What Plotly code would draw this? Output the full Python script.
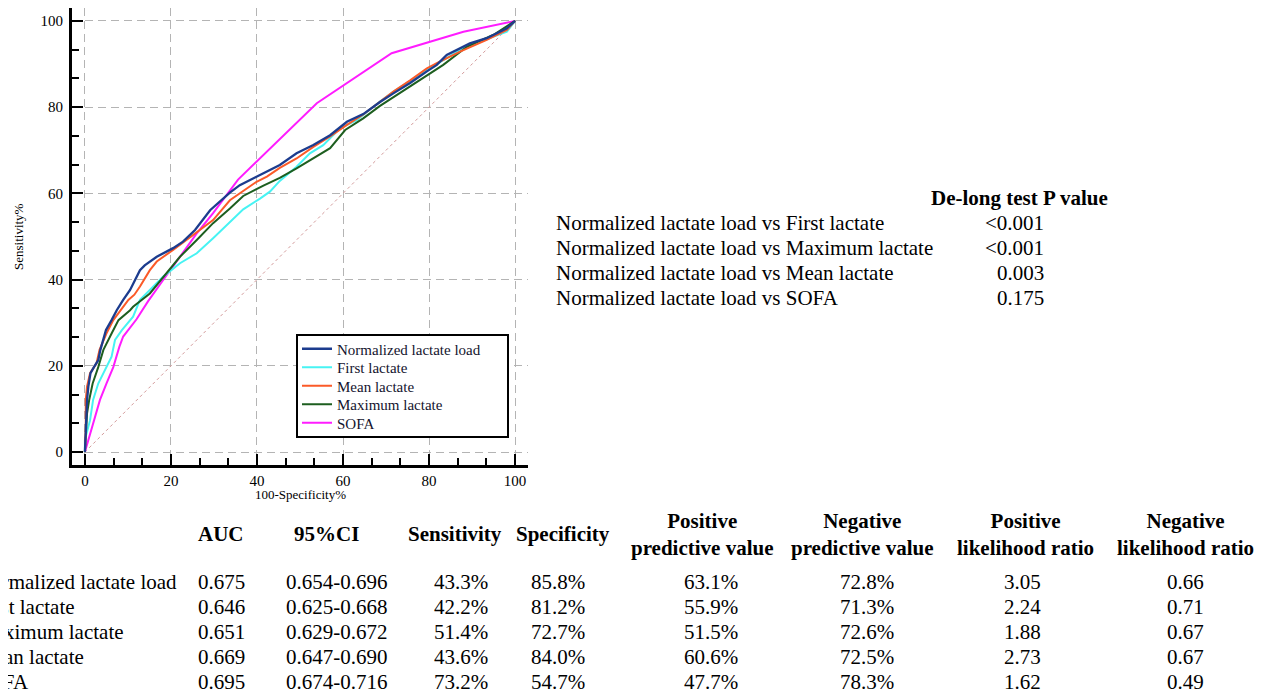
import plotly.graph_objects as go

# ---------------- data ----------------
nll_fpr = [0, 0.2, 0.5, 0.8, 1.3, 2.1, 3.1, 3.6, 4.3, 4.9, 6.2, 7.4, 8.9, 10.5, 12.8, 13.9, 16.7, 20.5, 22.8, 25.6, 29.1, 31.4, 33.7, 36.0, 39.1, 42.3, 45.3, 49.2, 53.1, 57.0, 60.9, 64.7, 68.6, 71.7, 75.6, 79.5, 81.8, 84.1, 87.2, 89.5, 93.4, 98.1, 100]
nll_tpr = [0, 6.0, 12.1, 15.2, 18.3, 19.7, 21.3, 23.7, 26.0, 28.3, 30.6, 32.9, 35.3, 37.6, 42.2, 43.3, 45.3, 47.3, 48.8, 51.5, 56.1, 58.1, 60.2, 61.9, 63.5, 65.0, 66.6, 69.3, 71.2, 73.5, 76.6, 78.4, 81.2, 83.2, 85.6, 88.3, 89.8, 92.1, 93.7, 94.8, 96.0, 98.3, 100]

first_fpr = [0, 0, 1.2, 1.9, 3.1, 5.0, 6.2, 7.0, 8.6, 11.2, 12.8, 15.1, 18.2, 22.1, 26.0, 29.8, 33.7, 36.8, 40.7, 43.0, 45.3, 49.2, 52.3, 55.4, 59.3, 63.2, 68.6, 72.0, 79.5, 87.2, 95.0, 98.1, 100]
first_tpr = [0, 2.8, 7.4, 12.1, 15.9, 19.7, 22.1, 26.0, 28.3, 31.4, 35.3, 37.6, 40.7, 43.8, 46.1, 49.6, 53.4, 56.3, 58.8, 60.4, 62.9, 66.2, 69.3, 71.2, 75.1, 77.0, 81.3, 83.8, 88.6, 93.3, 96.4, 97.5, 100]

mean_fpr = [0, 0.2, 0.2, 0.5, 1.2, 2.7, 3.4, 5.0, 6.6, 8.5, 10.1, 11.5, 12.8, 15.1, 16.7, 20.5, 23.6, 25.9, 29.8, 33.7, 37.6, 39.9, 42.3, 45.3, 49.2, 53.1, 57.0, 60.9, 64.7, 68.6, 71.7, 75.6, 79.5, 81.8, 87.2, 93.4, 98.1, 100]
mean_tpr = [0, 6.0, 12.1, 15.2, 18.3, 20.6, 23.7, 27.5, 30.6, 33.0, 35.3, 36.5, 38.4, 42.2, 44.2, 46.9, 49.2, 51.1, 53.8, 58.4, 61.2, 62.7, 63.9, 65.9, 68.1, 70.8, 73.2, 75.9, 78.3, 81.3, 83.6, 86.2, 89.0, 90.2, 92.9, 95.6, 97.9, 100]

max_fpr = [0, 0.2, 0.5, 1.0, 1.8, 3.1, 4.3, 6.2, 7.8, 10.5, 11.2, 15.1, 19.0, 22.1, 26.0, 29.8, 33.7, 36.8, 41.5, 45.3, 49.2, 53.1, 57.0, 60.5, 64.7, 68.6, 75.6, 83.3, 88.8, 95.0, 100]
max_tpr = [0, 4.3, 9.0, 12.1, 15.9, 19.7, 23.7, 27.5, 30.6, 32.9, 33.7, 36.8, 41.5, 45.3, 49.2, 53.1, 56.5, 59.4, 61.8, 63.6, 65.8, 68.1, 70.5, 74.7, 77.4, 80.3, 84.8, 89.8, 94.0, 96.8, 100]

sofa_fpr = [0, 1.2, 2.3, 3.5, 5.0, 6.6, 8.0, 8.9, 12.0, 14.7, 18.2, 22.1, 26.0, 29.8, 33.7, 35.6, 53.9, 71.3, 88.0, 100]
sofa_tpr = [0, 4.3, 8.2, 12.1, 15.9, 19.7, 24.4, 26.8, 30.8, 35.0, 39.9, 45.3, 50.7, 55.4, 60.8, 63.2, 80.9, 92.5, 97.5, 100]

ref_x = [0, 100]
ref_y = [0, 100]

series_names = ["Normalized lactate load", "First lactate", "Mean lactate", "Maximum lactate", "SOFA"]

delong_rows = ["Normalized lactate load vs First lactate",
               "Normalized lactate load vs Maximum lactate",
               "Normalized lactate load vs Mean lactate",
               "Normalized lactate load vs SOFA"]
delong_p = ["<0.001", "<0.001", "0.003", "0.175"]

table_headers = ["AUC", "95%CI", "Sensitivity", "Specificity",
                 "Positive<br>predictive value", "Negative<br>predictive value",
                 "Positive<br>likelihood ratio", "Negative<br>likelihood ratio"]
table_rows = ["Normalized lactate load", "First lactate", "Maximum lactate", "Mean lactate", "SOFA"]
auc = ["0.675", "0.646", "0.651", "0.669", "0.695"]
ci95 = ["0.654-0.696", "0.625-0.668", "0.629-0.672", "0.647-0.690", "0.674-0.716"]
sensitivity = ["43.3%", "42.2%", "51.4%", "43.6%", "73.2%"]
specificity = ["85.8%", "81.2%", "72.7%", "84.0%", "54.7%"]
ppv = ["63.1%", "55.9%", "51.5%", "60.6%", "47.7%"]
npv = ["72.8%", "71.3%", "72.6%", "72.5%", "78.3%"]
plr = ["3.05", "2.24", "1.88", "2.73", "1.62"]
nlr = ["0.66", "0.71", "0.67", "0.67", "0.49"]

# ---------------- layout geometry ----------------
OFF = 8                      # page body margin
W, H = 1267 - OFF, 698 - OFF
SL, SR, ST, SB = 72, 528, 8, 465  # plot area in screen pixels
FONT = "Liberation Serif, Times New Roman, serif"


def px(x):
    return (x - SL) / (SR - SL)


def py(y):
    return (SB - y) / (SB - ST)


fig = go.Figure()

fig.add_trace(go.Scatter(x=ref_x, y=ref_y, mode="lines", showlegend=False,
                         line=dict(color="#d39a9a", width=1, dash="dot"), hoverinfo="skip"))

colors = ["#1c3c8e", "#47f3f3", "#fb5a28", "#1d5e1f", "#ff1cff"]
data = [(nll_fpr, nll_tpr), (first_fpr, first_tpr), (mean_fpr, mean_tpr),
        (max_fpr, max_tpr), (sofa_fpr, sofa_tpr)]
legend_ids = ["legend", "legend2", "legend3", "legend4", "legend5"]
order = [4, 1, 3, 2, 0]  # draw order (navy on top)
for i in order:
    fx, ty = data[i]
    fig.add_trace(go.Scatter(x=fx, y=ty, mode="lines", name=series_names[i],
                             line=dict(color=colors[i], width=2.3 if i == 0 else 2),
                             legend=legend_ids[i]))

axis_common = dict(
    range=[-3, 103], dtick=20, tick0=0, ticks="inside", ticklen=11, tickwidth=2,
    tickcolor="black", showline=True, linewidth=3, linecolor="black",
    showgrid=True, gridcolor="#b4b4b4", gridwidth=1, griddash="8px,5px",
    zeroline=False, tickfont=dict(family=FONT, size=15, color="black"),
    minor=dict(dtick=20 / 3, tick0=0, ticks="inside", ticklen=7, tickwidth=1.5,
               tickcolor="black", showgrid=False),
    fixedrange=True,
)
fig.update_xaxes(**axis_common)
fig.update_yaxes(**axis_common, ticklabelstandoff=3)

annotations = []
# axis titles
annotations.append(dict(x=px(300), y=py(495), xref="paper", yref="paper", text="100-Specificity%",
                        showarrow=False, font=dict(family=FONT, size=13, color="black"),
                        xanchor="center", yanchor="middle"))
annotations.append(dict(x=px(18), y=py(237), xref="paper", yref="paper", text="Sensitivity%",
                        showarrow=False, textangle=-90, font=dict(family=FONT, size=13, color="black"),
                        xanchor="center", yanchor="middle"))

TS = 21
# De-long table
annotations.append(dict(x=px(1019), y=py(198), xref="paper", yref="paper",
                        text="<b>De-long test P value</b>", showarrow=False,
                        font=dict(family=FONT, size=TS, color="black"), xanchor="center", yanchor="middle"))
for k, (lab, pv) in enumerate(zip(delong_rows, delong_p)):
    yy = 223 + 25 * k
    annotations.append(dict(x=px(554), y=py(yy), xref="paper", yref="paper", text=lab,
                            showarrow=False, font=dict(family=FONT, size=TS, color="black"),
                            xanchor="left", yanchor="middle"))
    annotations.append(dict(x=px(1046), y=py(yy), xref="paper", yref="paper", text=pv.replace("<", "&lt;"),
                            showarrow=False, font=dict(family=FONT, size=TS, color="black"),
                            xanchor="right", yanchor="middle"))

# bottom table
header_x = [221, 326, 455, 563, 702, 862, 1025, 1185]
value_x = [221, 337, 461, 558, 711, 867, 1022, 1185]
for hx, htxt in zip(header_x, table_headers):
    annotations.append(dict(x=px(hx), y=py(534), xref="paper", yref="paper", text="<b>" + htxt + "</b>",
                            showarrow=False, font=dict(family=FONT, size=TS, color="black"),
                            xanchor="center", yanchor="middle", align="center"))
columns = [auc, ci95, sensitivity, specificity, ppv, npv, plr, nlr]
for r, name in enumerate(table_rows):
    yy = 582 + 25 * r
    annotations.append(dict(x=px(-26), y=py(yy), xref="paper", yref="paper", text=name,
                            showarrow=False, font=dict(family=FONT, size=TS, color="black"),
                            xanchor="left", yanchor="middle"))
    for vx, col in zip(value_x, columns):
        annotations.append(dict(x=px(vx), y=py(yy), xref="paper", yref="paper", text=col[r],
                                showarrow=False, font=dict(family=FONT, size=TS, color="black"),
                                xanchor="center", yanchor="middle"))

# legend box
shapes = [dict(type="rect", xref="paper", yref="paper", x0=px(297), x1=px(508), y0=py(437), y1=py(335),
               line=dict(color="black", width=2), fillcolor="white", layer="above")]

legend_rows_y = [349, 367.5, 386, 404.5, 423]
legend_layouts = {}
for i, lid in enumerate(legend_ids):
    legend_layouts[lid] = dict(x=px(297), y=py(legend_rows_y[i]), xanchor="left", yanchor="middle",
                               bgcolor="rgba(0,0,0,0)", borderwidth=0,
                               font=dict(family=FONT, size=15, color="#14142e"), itemwidth=30)

fig.update_layout(
    width=W, height=H, autosize=False,
    margin=dict(l=SL - OFF, r=W - (SR - OFF), t=ST - OFF, b=H - (SB - OFF), pad=0),
    paper_bgcolor="white", plot_bgcolor="white",
    showlegend=True,
    annotations=annotations, shapes=shapes,
    font=dict(family=FONT, color="black"),
    **legend_layouts,
)

fig.write_html("out.html")
